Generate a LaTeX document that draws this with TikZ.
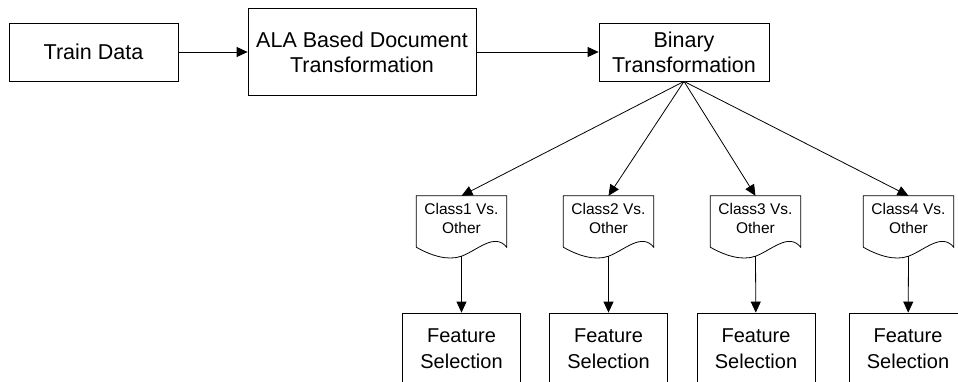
\documentclass[tikz,border=0pt]{standalone}
\usepackage{fontspec}
\setmainfont{Liberation Sans}
\usetikzlibrary{arrows.meta,calc}

\tikzset{
  box/.style={draw, line width=0.8pt, align=center, inner sep=0pt,
    font=\fontsize{21.5}{25}\selectfont},
  featbox/.style={box, minimum width=118pt, minimum height=72pt,
    font=\fontsize{20}{26}\selectfont},
  docnode/.style={align=center, inner sep=0pt, minimum width=90pt,
    minimum height=44pt, font=\fontsize{15.5}{19}\selectfont},
  flow/.style={line width=0.8pt, -{Triangle[length=11pt,width=10pt]}},
}

% document shape: wavy bottom drawn round a plain node
\newcommand{\docoutline}[1]{%
  \draw[line width=0.8pt] ($(#1.south west)+(0,7)$) -- (#1.north west)
    -- (#1.north east) -- ($(#1.south east)+(0,7)$)
    .. controls +(-12,-15) and +(16,-6) .. ($(#1.south)+(0,16)$)
    .. controls +(-14,5) and +(14,8) .. ($(#1.south west)+(0,7)$);
  \coordinate (#1b) at ($(#1.south)+(0,16)$);}

\begin{document}
\begin{tikzpicture}[x=1pt,y=-1pt]
  \useasboundingbox (0,0) rectangle (958,381);

  \node[box, minimum width=169pt, minimum height=58pt] (train) at (93.5,52) {Train Data};
  \node[box, minimum width=228pt, minimum height=87pt] (ala) at (362,52) {ALA Based Document\\Transformation};
  \node[box, minimum width=170pt, minimum height=58pt] (bin) at (684,52) {Binary\\Transformation};

  \draw[flow] (train) -- (ala);
  \draw[flow] (ala) -- (bin);

  \node[docnode] (c1) at (461.5,218) {Class1 Vs.\\Other}; % one vs rest
  \node[docnode] (c2) at (608.5,218) {Class2 Vs.\\Other};
  \node[docnode] (c3) at (755.5,218) {Class3 Vs.\\Other};
  \node[docnode] (c4) at (908.5,218) {Class4 Vs.\\Other};
  \docoutline{c1}
  \docoutline{c2}
  \docoutline{c3}
  \docoutline{c4}

  \draw[flow] (bin.south) -- (c1.north);
  \draw[flow] (bin.south) -- (c2.north);
  \draw[flow] (bin.south) -- (c3.north);
  \draw[flow] (bin.south) -- (c4.north);

  \node[featbox] (f1) at (461.5,349) {Feature\\Selection};
  \node[featbox] (f2) at (608.5,349) {Feature\\Selection};
  \node[featbox] (f3) at (756,349) {Feature\\Selection};
  \node[featbox] (f4) at (908,349) {Feature\\Selection};

  \draw[flow] (c1b) -- (f1);
  \draw[flow] (c2b) -- (f2);
  \draw[flow] (c3b) -- (f3);
  \draw[flow] (c4b) -- (f4);
\end{tikzpicture}
\end{document}
